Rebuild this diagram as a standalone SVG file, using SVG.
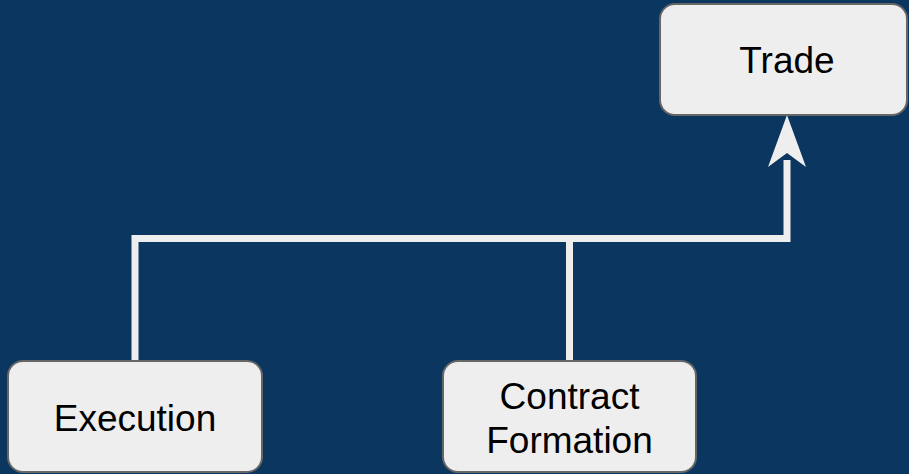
<svg xmlns="http://www.w3.org/2000/svg" width="909" height="474" viewBox="0 0 909 474">
  <style>
    .box { fill: #eeeeee; stroke: #666666; stroke-width: 2; }
    .label { font-family: "Liberation Sans", Arial, sans-serif; font-size: 37px; fill: #000000; text-anchor: middle; }
    .wire { fill: none; stroke: #eeeeee; stroke-width: 7; stroke-linejoin: miter; }
  </style>
  <rect x="0" y="0" width="909" height="474" fill="#0a3660"/>

  <!-- connectors: both sources merge into one bus that rises to Trade -->
  <g id="connectors">
    <path class="wire" d="M135 361 V238.5 H787 V160"/>
    <path class="wire" d="M569.5 361 V238.5"/>
    <path d="M787 115 L806 167 L787 153 L768 167 Z" fill="#eeeeee"/>
  </g>

  <g id="trade">
    <rect class="box" x="660" y="4" width="247" height="111" rx="15"/>
    <text class="label" x="787" y="73">Trade</text>
  </g>

  <g id="execution">
    <rect class="box" x="8" y="361" width="254" height="111" rx="15"/>
    <text class="label" x="135" y="431">Execution</text>
  </g>

  <g id="contract-formation">
    <rect class="box" x="443" y="361" width="253" height="111" rx="15"/>
    <text class="label" x="569.5" y="409">Contract</text>
    <text class="label" x="569.5" y="453">Formation</text>
  </g>
</svg>
